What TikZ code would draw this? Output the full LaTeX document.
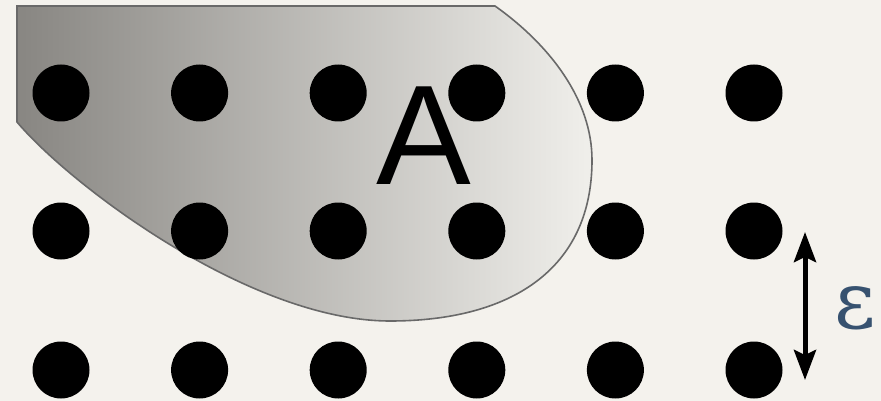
\documentclass[tikz,border=0pt]{standalone}
\usepackage{fontspec}
\usepackage{xcolor}
\usetikzlibrary{arrows.meta}
\setmainfont{Liberation Sans}
\newfontfamily\epsfont{DejaVu Serif}
\definecolor{paper}{RGB}{244,242,237}
\definecolor{blobdark}{RGB}{136,134,130}
\definecolor{bloblight}{RGB}{240,239,235}
\definecolor{blobline}{RGB}{105,105,105}
\definecolor{epsblue}{RGB}{55,82,112}

\begin{document}
\begin{tikzpicture}[x=1pt,y=-1pt,
    dot/.style={circle,fill=black,minimum size=57pt,inner sep=0pt},
    gap/.style={line width=5pt,{Stealth[length=30pt,width=22pt,inset=5pt]}-{Stealth[length=30pt,width=22pt,inset=5pt]}}]
    \fill[paper] (0,0) rectangle (881,401);
    \useasboundingbox (0,0) rectangle (881,401);
    % the set A
    \draw[blobline,line width=1.6pt,left color=blobdark,right color=bloblight]
      (17,6) -- (17,122) .. controls (70,185) and (250,321) .. (390,321)
      .. controls (510,321) and (592,270) .. (592,160)
      .. controls (592,100) and (550,45) .. (495,6) -- cycle;
    % grid points
    \foreach \r/\y in {1/93,2/231,3/370}
      \foreach \c in {1,...,6}
        \node[dot] (d\r\c) at ({61+138.6*(\c-1)},\y) {};
    \node[anchor=base,inner sep=0pt,font=\fontsize{142}{142}\selectfont] (A) at (424,185) {A};
    \coordinate (etop) at (805,232); \coordinate (ebot) at (805,380);
    \draw[gap] (etop) -- (ebot);
    \node[anchor=base,inner sep=0pt,text=epsblue,font=\epsfont\fontsize{80}{80}\selectfont] (eps) at (855,328) {ε};
  \end{tikzpicture}
\end{document}
